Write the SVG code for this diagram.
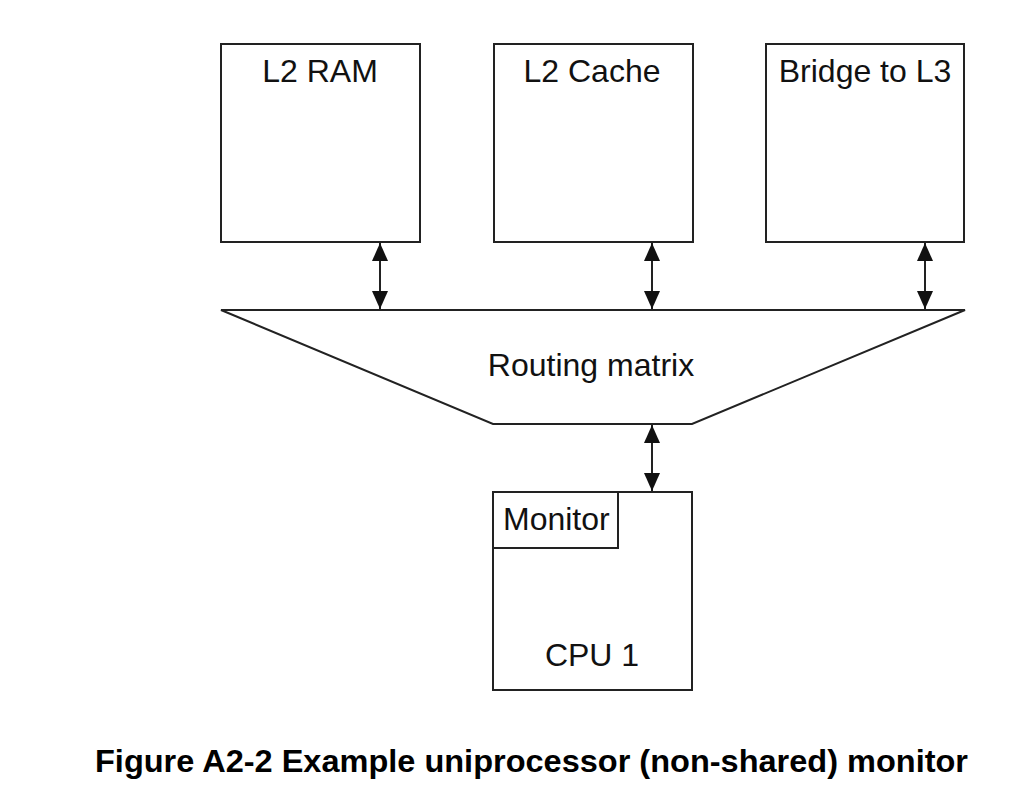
<svg xmlns="http://www.w3.org/2000/svg" width="1020" height="796" viewBox="0 0 1020 796">
<style>
.box{fill:#fff;stroke:#222;stroke-width:2}
.t{font-family:"Liberation Sans",Arial,sans-serif;font-size:32px;fill:#111}
.conn{stroke:#222;stroke-width:2;fill:none}
</style>
<defs>
<marker id="ah" viewBox="0 0 18 16" refX="18" refY="8" markerWidth="18" markerHeight="16" markerUnits="userSpaceOnUse" orient="auto-start-reverse">
<path d="M0,0 L18,8 L0,16 Z" fill="#111"/>
</marker>
</defs>
<rect width="1020" height="796" fill="#fff"/>
<g id="l2ram"><rect class="box" x="221" y="44" width="199" height="198"/><text class="t" x="320" y="82" text-anchor="middle">L2 RAM</text></g>
<g id="l2cache"><rect class="box" x="494" y="44" width="199" height="198"/><text class="t" x="592" y="82" text-anchor="middle">L2 Cache</text></g>
<g id="bridge"><rect class="box" x="766" y="44" width="198" height="198"/><text class="t" x="865" y="82" text-anchor="middle">Bridge to L3</text></g>
<g id="routing"><polygon class="box" points="221,310 965,310 692,424 493,424"/><text class="t" x="591" y="376" text-anchor="middle">Routing matrix</text></g>
<g id="cpu1"><rect class="box" x="493" y="492" width="199" height="198"/><text class="t" x="592" y="666" text-anchor="middle">CPU 1</text></g>
<g id="monitor"><rect class="box" x="493" y="492" width="125" height="56"/><text class="t" x="503" y="530">Monitor</text></g>
<g id="connectors">
<line class="conn" x1="380" y1="243" x2="380" y2="309" marker-start="url(#ah)" marker-end="url(#ah)"/>
<line class="conn" x1="652" y1="243" x2="652" y2="309" marker-start="url(#ah)" marker-end="url(#ah)"/>
<line class="conn" x1="925" y1="243" x2="925" y2="309" marker-start="url(#ah)" marker-end="url(#ah)"/>
<line class="conn" x1="652" y1="425" x2="652" y2="491" marker-start="url(#ah)" marker-end="url(#ah)"/>
</g>
<text x="95" y="772" font-family="'Liberation Sans',Arial,sans-serif" font-weight="bold" font-size="32" fill="#000" textLength="873" lengthAdjust="spacingAndGlyphs">Figure A2-2 Example uniprocessor (non-shared) monitor</text>
</svg>
